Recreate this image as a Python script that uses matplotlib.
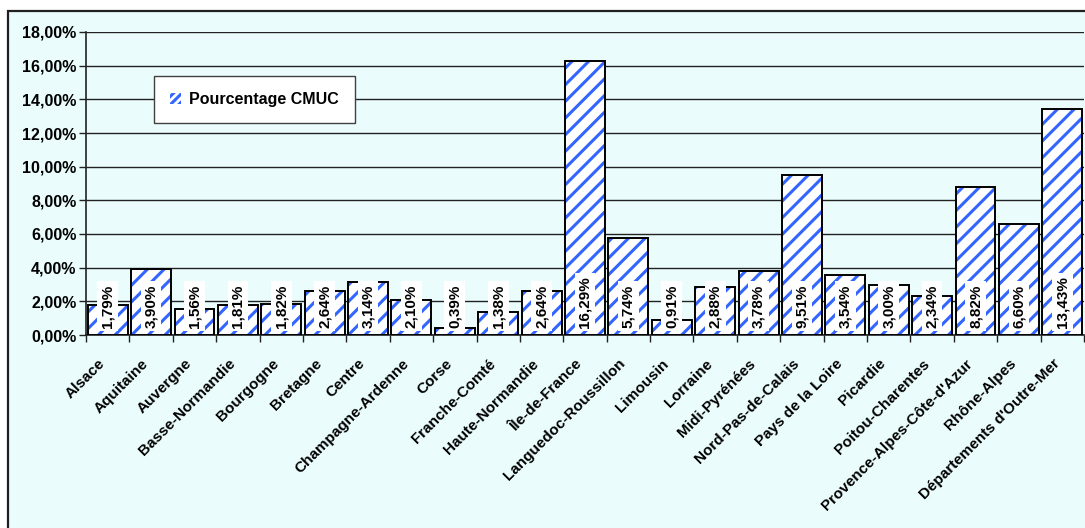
import matplotlib
matplotlib.use("Agg")
import matplotlib.pyplot as plt
from matplotlib.patches import Rectangle, Patch
from matplotlib.ticker import FuncFormatter, FixedLocator
from matplotlib.transforms import ScaledTranslation
import numpy as np

regions = [
    "Alsace", "Aquitaine", "Auvergne", "Basse-Normandie", "Bourgogne", "Bretagne",
    "Centre", "Champagne-Ardenne", "Corse", "Franche-Comté", "Haute-Normandie",
    "Île-de-France", "Languedoc-Roussillon", "Limousin", "Lorraine", "Midi-Pyrénées",
    "Nord-Pas-de-Calais", "Pays de la Loire", "Picardie", "Poitou-Charentes",
    "Provence-Alpes-Côte-d'Azur", "Rhône-Alpes", "Départements d'Outre-Mer",
]
pct_cmuc = [1.79, 3.90, 1.56, 1.81, 1.82, 2.64, 3.14, 2.10, 0.39, 1.38, 2.64,
            16.29, 5.74, 0.91, 2.88, 3.78, 9.51, 3.54, 3.00, 2.34, 8.82, 6.60, 13.43]
series_name = "Pourcentage CMUC"
y_ticks = [0, 2, 4, 6, 8, 10, 12, 14, 16, 18]


def fr_pct(v):
    return f"{v:.2f}%".replace(".", ",")


plt.rcParams["font.family"] = ["Liberation Sans", "DejaVu Sans"]
plt.rcParams["font.weight"] = "bold"
plt.rcParams["hatch.linewidth"] = 2.2

W, H = 1085, 528
fig = plt.figure(figsize=(W / 100, H / 100), dpi=100)
fig.patch.set_facecolor("white")

# chart area: pale cyan background with dark frame (right/bottom run off the page)
frame = Rectangle((8 / W, -0.2), 1.2, 1.2 - 11 / H, transform=fig.transFigure,
                  facecolor="#eafcfc", edgecolor="#202020", linewidth=1.6,
                  zorder=-2)
fig.patches.append(frame)

left, right, bottom, top = 86, 1084, 335, 32
ax = fig.add_axes([left / W, 1 - bottom / H, (right - left) / W, (bottom - top) / H])
ax.set_facecolor("none")

x = np.arange(len(regions))
bw = 0.92
ax.bar(x, pct_cmuc, width=bw, facecolor="white", edgecolor="#3366ff",
       hatch="//", linewidth=0, zorder=3)
ax.bar(x, pct_cmuc, width=bw, fill=False, edgecolor="black", linewidth=1.4,
       zorder=4)

# value labels sitting at the base of each bar
for xi, v in zip(x, pct_cmuc):
    ax.text(xi, 0.42, fr_pct(v), rotation=90,
            ha="center", va="bottom", fontsize=11, fontweight="bold",
            bbox=dict(boxstyle="square,pad=0.22", facecolor="white",
                      edgecolor="none"), zorder=5)

ax.set_xlim(-0.5, len(regions) - 0.5)
ax.set_ylim(0, 18)
ax.yaxis.set_major_locator(FixedLocator(y_ticks))
ax.yaxis.set_major_formatter(FuncFormatter(lambda v, p: fr_pct(v)))
ax.grid(axis="y", color="#222222", linewidth=1.0, zorder=1)
ax.set_axisbelow(True)

ax.set_xticks(x)
ax.set_xticklabels(regions, rotation=45, ha="right", rotation_mode="anchor",
                   fontsize=11, fontweight="bold")
ax.set_xticks(np.arange(len(regions) + 1) - 0.5, minor=True)
ax.tick_params(axis="x", which="major", length=0, pad=9)
ax.tick_params(axis="x", which="minor", length=5, width=1, color="#222222",
               direction="out")
ax.tick_params(axis="y", length=5, width=1, color="#222222", direction="out",
               labelsize=11.5, pad=2)
for lab in ax.get_yticklabels():
    lab.set_fontweight("bold")

shift = ScaledTranslation(-0.10, -0.09, fig.dpi_scale_trans)
for lab in ax.get_xticklabels():
    lab.set_transform(lab.get_transform() + shift)

for s in ("top", "right"):
    ax.spines[s].set_visible(False)
for s in ("left", "bottom"):
    ax.spines[s].set_color("#222222")
    ax.spines[s].set_linewidth(1.2)

handle = Patch(facecolor="white", edgecolor="#3366ff", hatch="////", linewidth=0)
leg = ax.legend([handle], [series_name], loc="upper left",
                bbox_to_anchor=((154 - left) / (right - left), (bottom - 76) / (bottom - top)),
                borderaxespad=0, frameon=True, fancybox=False, framealpha=1,
                edgecolor="#404040", facecolor="white",
                prop={"weight": "bold", "size": 11.5},
                handlelength=0.7, handleheight=0.7, handletextpad=0.5,
                borderpad=1.0)
leg.get_frame().set_linewidth(1.0)
leg.set_zorder(10)

fig.savefig("out.png", dpi=100)
